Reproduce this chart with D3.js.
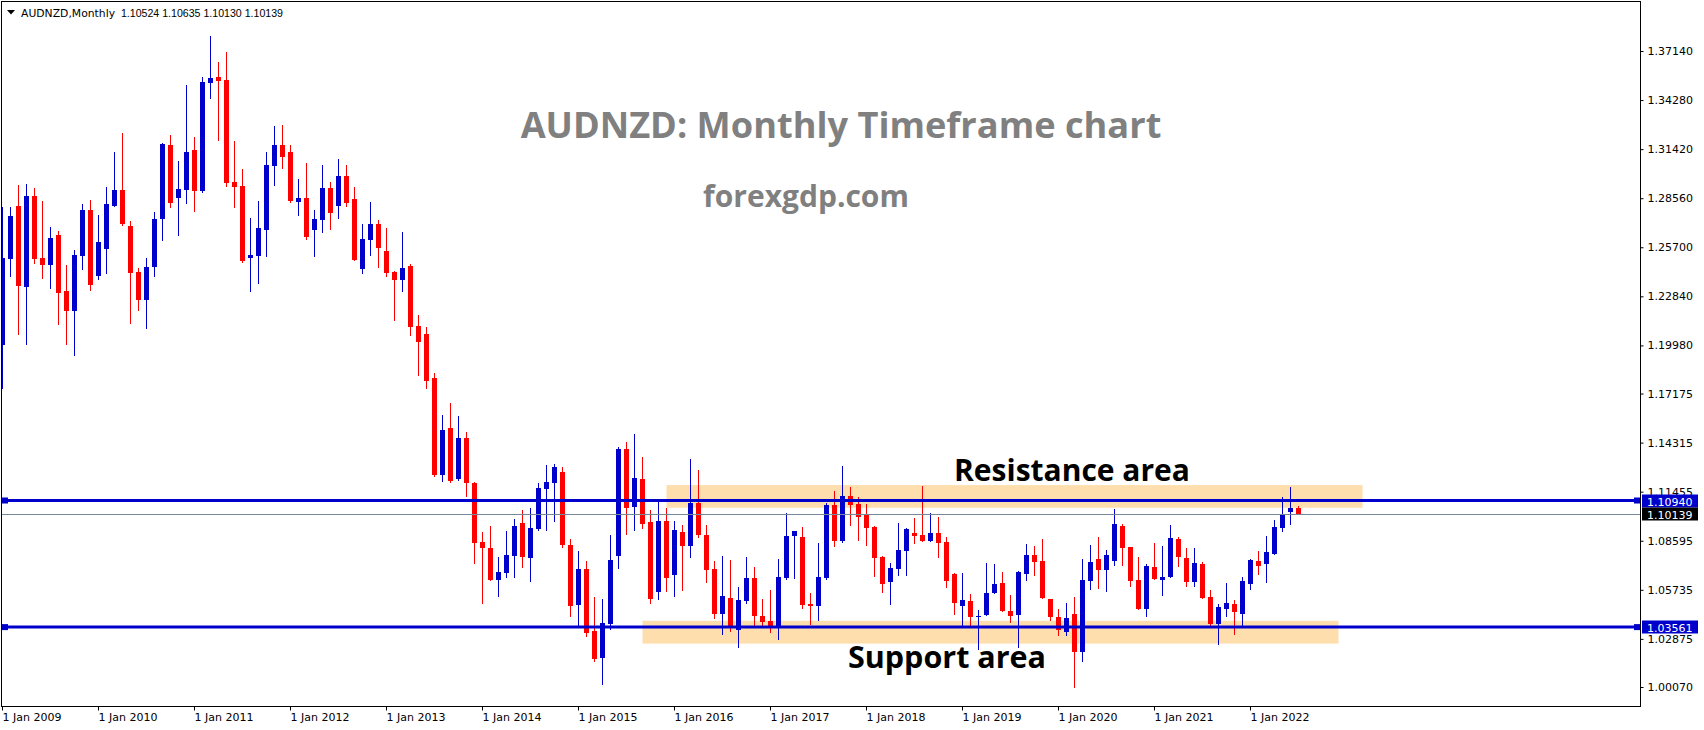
<!DOCTYPE html>
<html><head><meta charset="utf-8">
<script src="https://cdn.jsdelivr.net/npm/d3@7"></script>
<style>
html,body{margin:0;padding:0;background:#fff;}
svg{display:block;}
</style></head><body>
<svg id="chart" width="1704" height="730"></svg>
<script>
// ---------------- DATA ----------------
const symbolName = "AUDNZD,Monthly";
const headerOHLC = ["1.10524", "1.10635", "1.10130", "1.10139"];
const firstMonth = "2009-01";

const open = [
1.2000,1.2502,1.2811,1.2338,1.2869,1.2507,1.2467,1.2641,1.2315,1.2198,
1.2519,1.2787,1.2402,1.2560,1.2811,1.2904,1.2694,1.2426,1.2263,1.2455,
1.2735,1.3166,1.2857,1.2904,1.3137,1.2898,1.3527,1.3562,1.3545,1.2950,
1.2927,1.2507,1.2519,1.2671,1.3044,1.3166,1.3125,1.2834,1.2857,1.2671,
1.2729,1.2915,1.2811,1.2985,1.2851,1.2443,1.2612,1.2706,1.2548,1.2426,
1.2379,1.2461,1.2111,1.2064,1.1808,1.1243,1.1516,1.1219,1.1458,1.1196,
1.0852,1.0817,1.0630,1.0671,1.0770,1.0963,1.0759,1.0928,1.1161,1.1196,
1.1260,1.0834,1.0485,1.0695,1.0333,1.0176,1.0374,1.0770,1.1394,1.1056,
1.1219,1.0969,1.0561,1.0974,1.0660,1.0910,1.0829,1.1079,1.0893,1.0695,
1.0432,1.0526,1.0339,1.0508,1.0642,1.0421,1.0391,1.0362,1.0642,1.0887,
1.0881,1.0491,1.0479,1.0642,1.1068,1.0858,1.1120,1.1073,1.1009,1.0939,
1.0765,1.0619,1.0695,1.0799,1.0904,1.0893,1.0858,1.0904,1.0852,1.0665,
1.0479,1.0508,1.0415,1.0426,1.0555,1.0613,1.0450,1.0426,1.0665,1.0776,
1.0741,1.0520,1.0415,1.0327,1.0432,1.0211,1.0625,1.0753,1.0689,1.0741,
1.0945,1.0823,1.0630,1.0461,1.0706,1.0630,1.0648,1.0869,1.0759,1.0619,
1.0724,1.0531,1.0374,1.0461,1.0491,1.0432,1.0607,1.0741,1.0724,1.0782,
1.0934,1.1027,1.10524];
const high = [
1.2805,1.2805,1.2933,1.2939,1.2915,1.2840,1.2688,1.2665,1.2467,1.2554,
1.2822,1.2846,1.2758,1.2921,1.3125,1.3236,1.2723,1.2449,1.2507,1.2776,
1.3178,1.3224,1.3073,1.3516,1.3213,1.3562,1.3801,1.3650,1.3708,1.3189,
1.3026,1.2741,1.2840,1.3125,1.3277,1.3283,1.3166,1.2968,1.3061,1.2787,
1.3050,1.2950,1.3085,1.3050,1.2921,1.2706,1.2834,1.2729,1.2682,1.2432,
1.2659,1.2472,1.2175,1.2105,1.1837,1.1592,1.1662,1.1586,1.1493,1.1202,
1.0910,1.0945,1.0765,1.0916,1.0986,1.1039,1.1050,1.1196,1.1301,1.1307,
1.1289,1.0869,1.0799,1.0741,1.0531,1.0520,1.0893,1.1406,1.1435,1.1482,
1.1347,1.1039,1.1085,1.1050,1.0974,1.0951,1.1336,1.1272,1.0951,1.0741,
1.0770,1.0747,1.0590,1.0765,1.0706,1.0520,1.0572,1.0753,1.1021,1.0916,
1.0939,1.0555,1.0846,1.1079,1.1149,1.1295,1.1173,1.1114,1.1073,1.0945,
1.0770,1.0730,1.0963,1.0934,1.0992,1.1178,1.1021,1.0998,1.0881,1.0671,
1.0671,1.0549,1.0456,1.0730,1.0724,1.0677,1.0543,1.0683,1.0840,1.0829,
1.0869,1.0520,1.0461,1.0496,1.0531,1.0753,1.0834,1.0881,1.0805,1.1044,
1.0957,1.0823,1.0765,1.0724,1.0846,1.0829,1.0951,1.0881,1.0817,1.0817,
1.0735,1.0572,1.0491,1.0613,1.0514,1.0648,1.0753,1.0799,1.0887,1.0980,
1.1114,1.1173,1.10635];
const low = [
1.1744,1.2397,1.2059,1.2000,1.2472,1.2385,1.2327,1.2117,1.2000,1.1936,
1.2437,1.2315,1.2379,1.2414,1.2805,1.2694,1.2123,1.2198,1.2094,1.2397,
1.2607,1.2799,1.2636,1.2822,1.2776,1.2886,1.3434,1.3189,1.2921,1.2799,
1.2478,1.2309,1.2356,1.2513,1.2927,1.3026,1.2828,1.2752,1.2612,1.2513,
1.2653,1.2671,1.2735,1.2805,1.2490,1.2414,1.2519,1.2449,1.2397,1.2140,
1.2309,1.2053,1.1820,1.1744,1.1231,1.1202,1.1196,1.1208,1.1114,1.0724,
1.0491,1.0625,1.0531,1.0642,1.0642,1.0700,1.0619,1.0916,1.0916,1.0969,
1.0817,1.0415,1.0356,1.0298,1.0153,1.0018,1.0339,1.0695,1.0893,1.0916,
1.0928,1.0491,1.0514,1.0561,1.0531,1.0566,1.0759,1.0875,1.0613,1.0403,
1.0310,1.0327,1.0234,1.0491,1.0362,1.0362,1.0322,1.0281,1.0630,1.0636,
1.0461,1.0368,1.0391,1.0630,1.0823,1.0846,1.0945,1.0858,1.0829,1.0648,
1.0555,1.0485,1.0654,1.0654,1.0840,1.0852,1.0852,1.0759,1.0584,1.0426,
1.0356,1.0356,1.0222,1.0421,1.0549,1.0444,1.0380,1.0234,1.0625,1.0654,
1.0520,1.0391,1.0304,1.0304,1.0001,1.0153,1.0572,1.0578,1.0561,1.0712,
1.0712,1.0590,1.0456,1.0415,1.0630,1.0537,1.0642,1.0706,1.0590,1.0590,
1.0520,1.0362,1.0252,1.0415,1.0310,1.0356,1.0572,1.0660,1.0613,1.0776,
1.0910,1.0951,1.10130];
const close = [
1.2507,1.2752,1.2344,1.2869,1.2502,1.2467,1.2624,1.2303,1.2198,1.2525,
1.2787,1.2350,1.2601,1.2822,1.2904,1.2706,1.2420,1.2263,1.2455,1.2735,
1.3172,1.2828,1.2910,1.3125,1.2898,1.3533,1.3557,1.3539,1.2945,1.2921,
1.2490,1.2525,1.2682,1.3050,1.3166,1.3096,1.2840,1.2857,1.2630,1.2735,
1.2915,1.2770,1.2985,1.2828,1.2496,1.2618,1.2706,1.2566,1.2420,1.2379,
1.2449,1.2105,1.2018,1.1790,1.1243,1.1505,1.1208,1.1458,1.1196,1.0846,
1.0817,1.0630,1.0677,1.0776,1.0945,1.0765,1.0934,1.1167,1.1202,1.1289,
1.0834,1.0479,1.0695,1.0322,1.0170,1.0380,1.0747,1.1394,1.1050,1.1225,
1.0957,1.0520,1.0974,1.0642,1.0922,1.0829,1.1079,1.0893,1.0689,1.0432,
1.0537,1.0351,1.0514,1.0642,1.0421,1.0386,1.0362,1.0648,1.0887,1.0916,
1.0485,1.0479,1.0648,1.1068,1.0858,1.1120,1.1068,1.0998,1.0934,1.0759,
1.0607,1.0700,1.0805,1.0928,1.0887,1.0858,1.0904,1.0846,1.0625,1.0496,
1.0514,1.0415,1.0421,1.0555,1.0607,1.0450,1.0421,1.0677,1.0776,1.0735,
1.0526,1.0415,1.0339,1.0409,1.0211,1.0630,1.0735,1.0689,1.0776,1.0957,
1.0817,1.0625,1.0461,1.0712,1.0636,1.0648,1.0875,1.0765,1.0619,1.0730,
1.0526,1.0374,1.0473,1.0496,1.0444,1.0625,1.0747,1.0712,1.0794,1.0939,
1.1015,1.1050,1.10139];

const priceTicks = [1.37140,1.34280,1.31420,1.28560,1.25700,1.22840,1.19980,1.17175,1.14315,1.11455,1.08595,1.05735,1.02875,1.00070];
const levelPrices = [1.10940, 1.03561];
const bidPrice = 1.10139;
const zoneNames  = ["Resistance area", "Support area"];
const zoneTop    = [1.1184, 1.0393];
const zoneBottom = [1.1052, 1.0260];
const zoneStart  = ["2015-12", "2015-09"];
const zoneEnd    = ["2023-03", "2022-12"];
const titleText = "AUDNZD: Monthly Timeframe chart";
const siteText = "forexgdp.com";

// ---------------- LAYOUT ----------------
const plot = {left: 2, top: 2, right: 1640, bottom: 706};
const barStep = 8, bodyW = 5;
const bull = "#0000CD", bear = "#FF0000";
const axisFont = "'DejaVu Sans', Verdana, sans-serif";
const numFont = "'Liberation Sans', Arial, sans-serif";

const svg = d3.select("#chart");
const parse = d3.timeParse("%Y-%m");
const start = parse(firstMonth);
const months = d3.timeMonth.range(start, d3.timeMonth.offset(start, open.length));
const slotCount = Math.ceil((plot.right + 1.5) / barStep) + 1;
const slots = d3.timeMonth.range(start, d3.timeMonth.offset(start, slotCount));

const x = d3.scaleBand().domain(slots).range([-1.5, -1.5 + slotCount * barStep]).padding(0);
const cx = d => x(d) + x.bandwidth() / 2;
const y = d3.scaleLinear().domain([1.00070, 1.37140]).range([687, 51]);

const candles = months.map((d, i) => ({date: d, o: open[i], h: high[i], l: low[i], c: close[i]}));

svg.append("rect").attr("width", 1704).attr("height", 730).attr("fill", "#fff");

svg.append("defs").append("clipPath").attr("id", "clip")
  .append("rect").attr("x", plot.left).attr("y", plot.top)
  .attr("width", plot.right - plot.left).attr("height", plot.bottom - plot.top);

const g = svg.append("g").attr("clip-path", "url(#clip)");

// zones
g.selectAll("rect.zone").data(zoneNames).join("rect").attr("class", "zone")
  .attr("x", (d, i) => cx(parse(zoneStart[i])))
  .attr("width", (d, i) => cx(parse(zoneEnd[i])) - cx(parse(zoneStart[i])))
  .attr("y", (d, i) => y(zoneTop[i]))
  .attr("height", (d, i) => y(zoneBottom[i]) - y(zoneTop[i]))
  .attr("fill", "#FFDEAD");

// candles
const cg = g.append("g").attr("shape-rendering", "crispEdges");
cg.selectAll("line").data(candles).join("line")
  .attr("x1", d => cx(d.date)).attr("x2", d => cx(d.date))
  .attr("y1", d => y(d.h)).attr("y2", d => y(d.l))
  .attr("stroke", d => d.c >= d.o ? bull : bear).attr("stroke-width", 1);
cg.selectAll("rect").data(candles).join("rect")
  .attr("x", d => cx(d.date) - bodyW / 2).attr("width", bodyW)
  .attr("y", d => y(Math.max(d.o, d.c)))
  .attr("height", d => Math.max(1, y(Math.min(d.o, d.c)) - y(Math.max(d.o, d.c))))
  .attr("fill", d => d.c >= d.o ? bull : bear);

// bid line
g.append("line").attr("x1", plot.left).attr("x2", plot.right)
  .attr("y1", Math.round(y(bidPrice)) + 0.5).attr("y2", Math.round(y(bidPrice)) + 0.5)
  .attr("stroke", "#778899").attr("stroke-width", 1);

// level lines
levelPrices.forEach(p => {
  const yy = y(p);
  g.append("line").attr("x1", plot.left).attr("x2", plot.right)
    .attr("y1", yy).attr("y2", yy).attr("stroke", bull).attr("stroke-width", 3);
  g.append("rect").attr("x", plot.left).attr("y", yy - 3).attr("width", 6).attr("height", 6).attr("fill", bull);
  g.append("rect").attr("x", plot.right - 6).attr("y", yy - 3).attr("width", 6).attr("height", 6).attr("fill", bull);
});

// border
svg.append("rect").attr("x", plot.left - 0.5).attr("y", plot.top - 0.5)
  .attr("width", plot.right - plot.left + 1).attr("height", plot.bottom - plot.top + 1)
  .attr("fill", "none").attr("stroke", "#000").attr("stroke-width", 1)
  .attr("shape-rendering", "crispEdges");

// right axis
const ya = svg.append("g").attr("transform", `translate(${plot.right + 0.5},0)`)
  .call(d3.axisRight(y).tickValues(priceTicks).tickSize(3).tickPadding(4).tickFormat(d3.format(".5f")));
ya.select(".domain").remove();
ya.selectAll("text").attr("font-family", axisFont).attr("font-size", 11).attr("fill", "#000");
ya.selectAll("line").attr("stroke", "#000");

// bottom axis
const januaries = months.filter(d => d.getMonth() === 0);
const xa = svg.append("g").attr("transform", `translate(0,${plot.bottom + 0.5})`)
  .call(d3.axisBottom(x).tickValues(januaries).tickSize(4).tickPadding(3).tickFormat(d3.timeFormat("%-d %b %Y")));
xa.select(".domain").remove();
xa.selectAll("text").attr("font-family", axisFont).attr("font-size", 11).attr("fill", "#000")
  .attr("text-anchor", "start");
xa.selectAll("line").attr("stroke", "#000");

// price labels on axis
const priceLabel = (p, bg) => {
  const yy = Math.round(y(p));
  svg.append("rect").attr("x", plot.right + 2).attr("y", yy - 6.5).attr("width", 56).attr("height", 13).attr("fill", bg);
  svg.append("text").attr("x", plot.right + 7).attr("y", yy + 4.5)
    .attr("font-family", axisFont).attr("font-size", 11).attr("fill", "#fff").text(d3.format(".5f")(p));
};
levelPrices.forEach(p => priceLabel(p, bull));
priceLabel(bidPrice, "#000");

// header
svg.append("path").attr("d", "M7,10 L15,10 L11,14.5 Z").attr("fill", "#000");
const hdr = svg.append("text").attr("x", 21).attr("y", 17).attr("fill", "#000").style("white-space", "pre");
hdr.append("tspan").attr("font-family", axisFont).attr("font-size", 10.8).text(symbolName);
hdr.append("tspan").attr("font-family", numFont).attr("font-size", 10.6).text("  " + headerOHLC.join(" "));

// title texts
const textFont = "'Open Sans', 'Noto Sans', sans-serif";
svg.append("text").attr("x", 841).attr("y", 138).attr("text-anchor", "middle")
  .attr("font-family", textFont).attr("font-weight", 700).attr("font-size", 36.2).attr("fill", "#808080")
  .text(titleText);
svg.append("text").attr("x", 806).attr("y", 207).attr("text-anchor", "middle")
  .attr("font-family", textFont).attr("font-weight", 700).attr("font-size", 30).attr("fill", "#808080")
  .text(siteText);

const zoneTextX = [1072, 947];
const zoneTextY = [481, 668];
zoneNames.forEach((t, i) => {
  svg.append("text").attr("x", zoneTextX[i]).attr("y", zoneTextY[i]).attr("text-anchor", "middle")
    .attr("font-family", textFont).attr("font-weight", 700).attr("font-size", i === 0 ? 30 : 30.5).attr("fill", "#000")
    .text(t);
});
</script>
</body></html>
